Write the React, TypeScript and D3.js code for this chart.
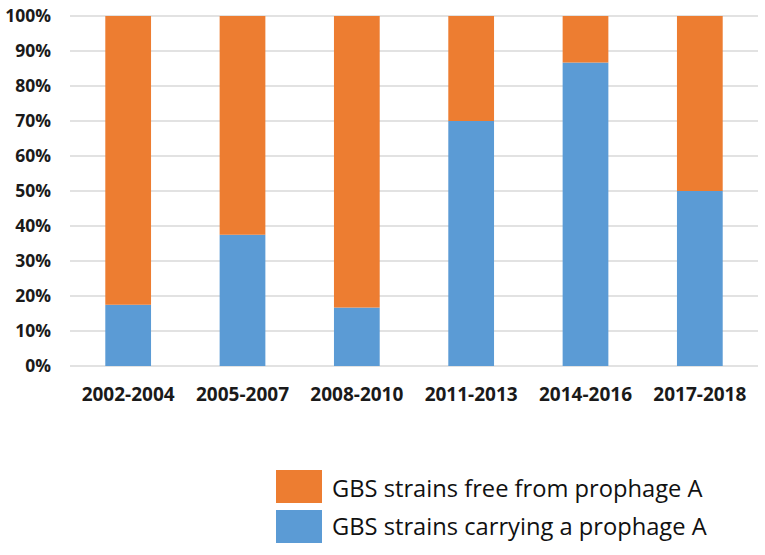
import React from "react";
import * as d3 from "d3";

const categories = ["2002-2004", "2005-2007", "2008-2010", "2011-2013", "2014-2016", "2017-2018"];
const carrying = [17.5, 37.5, 16.7, 70, 86.7, 50];
const free = [82.5, 62.5, 83.3, 30, 13.3, 50];
const yTicks = [0, 10, 20, 30, 40, 50, 60, 70, 80, 90, 100];
const seriesNames = ["GBS strains free from prophage A", "GBS strains carrying a prophage A"];

const ORANGE = "#ED7D31";
const BLUE = "#5B9BD5";

export default function App() {
  const W = 765, H = 555;
  const x = d3.scaleBand<string>().domain(categories).range([71, 757]).paddingInner(0.6).paddingOuter(0.3);
  const y = d3.scaleLinear().domain([0, 100]).range([366, 16]);
  const stackData = categories.map((c, i) => ({ cat: c, carrying: carrying[i], free: free[i] }));
  const stack = d3.stack<any>().keys(["carrying", "free"]);
  const layers = stack(stackData);
  const colors: Record<string, string> = { carrying: BLUE, free: ORANGE };

  return (
    <svg width={W} height={H} style={{ position: "absolute", left: 0, top: 0, background: "#fff" }}>
      <rect width={W} height={H} fill="#fff" />
      {yTicks.map((t) => (
        <g key={t}>
          <line x1={70} x2={758} y1={y(t)} y2={y(t)} stroke="#D9D9D9" strokeWidth={1.3} />
          <text x={51} y={y(t)} dy="0.36em" textAnchor="end" fontFamily="'Open Sans', sans-serif" fontWeight="bold" fontSize={17.5} fill="#1a1a1a">
            {t}%
          </text>
        </g>
      ))}
      {layers.map((layer) => (
        <g key={layer.key}>
          {layer.map((d: any, i: number) => (
            <rect
              key={i}
              x={x(categories[i])}
              width={x.bandwidth()}
              y={y(d[1])}
              height={y(d[0]) - y(d[1])}
              fill={colors[layer.key]}
            />
          ))}
        </g>
      ))}
      {categories.map((c) => (
        <text key={c} x={(x(c) as number) + x.bandwidth() / 2} y={401} textAnchor="middle" fontFamily="'Open Sans', sans-serif" fontWeight="bold" fontSize={19} fill="#1a1a1a">
          {c}
        </text>
      ))}
      <rect x={276} y={470} width={46} height={33} fill={ORANGE} />
      <text x={332} y={497} fontFamily="'Open Sans', sans-serif" fontSize={23.7} fill="#111">{seriesNames[0]}</text>
      <rect x={276} y={510} width={46} height={33} fill={BLUE} />
      <text x={332} y={535} fontFamily="'Open Sans', sans-serif" fontSize={23.7} fill="#111">{seriesNames[1]}</text>
    </svg>
  );
}
